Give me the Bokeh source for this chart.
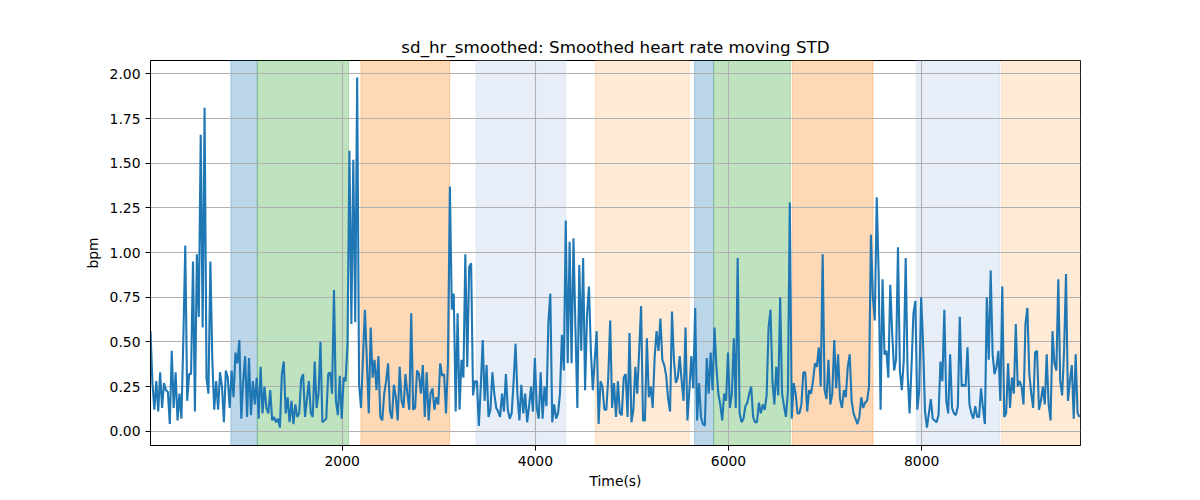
from bokeh.plotting import figure
from bokeh.models import BoxAnnotation, FixedTicker, PrintfTickFormatter, Range1d, ColumnDataSource
from bokeh.embed import file_html
from bokeh.resources import INLINE

# ---- data -------------------------------------------------------------
SAMPLE_START = 15      # s, first sample
SAMPLE_STEP = 20       # s, sampling step

sd_part1 = [0.56, 0.27, 0.12, 0.28, 0.11, 0.33, 0.13, 0.27, 0.23, 0.22,
            0.04, 0.45, 0.13, 0.33, 0.06, 0.21, 0.07, 0.51, 1.04, 0.17,
            0.32, 0.32, 0.95, 0.11, 0.99, 0.64, 1.66, 0.58, 1.81, 0.30,
            0.21, 0.95, 0.40, 0.12, 0.28, 0.12, 0.33, 0.25, 0.05, 0.34,
            0.30, 0.13, 0.34, 0.19, 0.44, 0.38, 0.51, 0.07, 0.28, 0.42,
            0.08, 0.41, 0.09, 0.28, 0.15, 0.30, 0.07, 0.36, 0.10, 0.25,
            0.13, 0.10, 0.23, 0.06, 0.08, 0.05, 0.07, 0.02, 0.32, 0.39,
            0.10, 0.19, 0.05, 0.17, 0.04, 0.15, 0.08, 0.10, 0.29, 0.32]
sd_part2 = [0.08, 0.18, 0.28, 0.10, 0.08, 0.39, 0.13, 0.21, 0.50, 0.05,
            0.06, 0.07, 0.32, 0.33, 0.21, 0.79, 0.17, 0.09, 0.31, 0.07,
            0.30, 0.28, 0.49, 1.57, 0.60, 1.52, 0.61, 1.98, 0.26, 0.13,
            0.41, 0.68, 0.40, 0.10, 0.58, 0.30, 0.40, 0.23, 0.42, 0.08,
            0.06, 0.21, 0.28, 0.38, 0.11, 0.07, 0.26, 0.19, 0.06, 0.36,
            0.17, 0.13, 0.32, 0.21, 0.12, 0.66, 0.12, 0.13, 0.34, 0.32,
            0.21, 0.37, 0.08, 0.33, 0.06, 0.21, 0.24, 0.12, 0.19, 0.15,
            0.38, 0.31, 0.32, 0.10, 0.38, 1.37, 0.68, 0.77, 0.11, 0.66]
sd_part3 = [0.12, 0.40, 0.30, 0.99, 0.36, 0.92, 0.94, 0.20, 0.28, 0.28,
            0.03, 0.25, 0.51, 0.17, 0.37, 0.08, 0.12, 0.33, 0.21, 0.13,
            0.11, 0.08, 0.21, 0.11, 0.32, 0.12, 0.07, 0.10, 0.28, 0.49,
            0.20, 0.06, 0.26, 0.10, 0.21, 0.05, 0.14, 0.25, 0.11, 0.41,
            0.13, 0.07, 0.33, 0.07, 0.25, 0.14, 0.61, 0.77, 0.05, 0.15,
            0.07, 0.10, 0.21, 0.54, 0.34, 1.18, 0.38, 1.06, 0.38, 1.08,
            0.58, 0.13, 0.93, 0.45, 0.97, 0.23, 0.65, 0.81, 0.45, 0.23,
            0.40, 0.56, 0.04, 0.28, 0.25, 0.12, 0.12, 0.30, 0.62, 0.13]
sd_part4 = [0.27, 0.08, 0.28, 0.10, 0.09, 0.30, 0.32, 0.08, 0.55, 0.05,
            0.12, 0.36, 0.21, 0.45, 0.70, 0.06, 0.06, 0.52, 0.19, 0.25,
            0.13, 0.41, 0.56, 0.45, 0.63, 0.40, 0.37, 0.31, 0.18, 0.11,
            0.67, 0.40, 0.27, 0.30, 0.42, 0.28, 0.17, 0.58, 0.06, 0.23,
            0.42, 0.24, 0.69, 0.06, 0.27, 0.08, 0.04, 0.03, 0.41, 0.21,
            0.44, 0.23, 0.58, 0.36, 0.21, 0.15, 0.06, 0.21, 0.17, 0.44,
            0.13, 0.21, 0.52, 0.13, 0.97, 0.10, 0.05, 0.07, 0.14, 0.16,
            0.21, 0.25, 0.08, 0.05, 0.05, 0.16, 0.10, 0.15, 0.12, 0.20]
sd_part5 = [0.58, 0.68, 0.28, 0.15, 0.36, 0.20, 0.75, 0.21, 0.14, 0.08,
            0.22, 1.28, 0.07, 0.27, 0.21, 0.10, 0.10, 0.15, 0.33, 0.33,
            0.11, 0.23, 0.21, 0.28, 0.38, 0.36, 0.47, 0.25, 0.99, 0.23,
            0.18, 0.40, 0.15, 0.21, 0.51, 0.24, 0.43, 0.18, 0.13, 0.23,
            0.19, 0.36, 0.43, 0.17, 0.10, 0.07, 0.04, 0.08, 0.19, 0.13,
            0.16, 0.17, 0.25, 1.10, 0.75, 0.62, 1.31, 0.88, 0.12, 0.85,
            0.43, 0.45, 0.30, 0.82, 0.55, 0.34, 0.40, 1.03, 0.34, 0.23,
            0.40, 0.97, 0.32, 0.10, 0.36, 0.66, 0.73, 0.12, 0.23, 0.75]
sd_part6 = [0.49, 0.11, 0.02, 0.10, 0.18, 0.07, 0.06, 0.05, 0.09, 0.39,
            0.28, 0.68, 0.17, 0.10, 0.43, 0.13, 0.10, 0.09, 0.14, 0.64,
            0.25, 0.26, 0.25, 0.47, 0.15, 0.10, 0.07, 0.14, 0.08, 0.08,
            0.24, 0.13, 0.04, 0.75, 0.40, 0.90, 0.43, 0.32, 0.36, 0.45,
            0.17, 0.81, 0.08, 0.10, 0.38, 0.13, 0.30, 0.21, 0.60, 0.25,
            0.28, 0.25, 0.15, 0.60, 0.69, 0.32, 0.21, 0.13, 0.44, 0.45,
            0.12, 0.17, 0.25, 0.15, 0.43, 0.15, 0.06, 0.56, 0.38, 0.34,
            0.85, 0.28, 0.20, 0.45, 0.88, 0.17, 0.28, 0.37, 0.07, 0.43,
            0.10, 0.08]

# labelled segments (s)
span_start = [847, 1121, 2194, 3386, 4619, 5648, 5847, 6661, 7945, 8826]
span_end   = [1121, 2066, 3113, 4315, 5593, 5845, 6640, 7497, 8809, 9700]
span_color = ["#1f77b4", "#2ca02c", "#ff7f0e", "#aec7e8", "#ffbb78",
              "#1f77b4", "#2ca02c", "#ff7f0e", "#aec7e8", "#ffbb78"]

y_ticks = [0.0, 0.25, 0.5, 0.75, 1.0, 1.25, 1.5, 1.75, 2.0]
x_ticks = [2000, 4000, 6000, 8000]

sd_values = sd_part1 + sd_part2 + sd_part3 + sd_part4 + sd_part5 + sd_part6
time_s = [SAMPLE_START + SAMPLE_STEP * i for i in range(len(sd_values))]

# ---- figure -------------------------------------------------------------
FONT = "DejaVu Sans"
W, H = 1192, 492
p = figure(width=W, height=H, output_backend="svg", toolbar_location=None,
           x_range=Range1d(15, 9645), y_range=Range1d(-0.08, 2.075),
           title="sd_hr_smoothed: Smoothed heart rate moving STD",
           x_axis_label="Time(s)", y_axis_label="bpm")
p.min_border_left = 150
p.min_border_right = W - 1080
p.min_border_top = 60
p.min_border_bottom = H - 445
p.background_fill_color = "white"
p.border_fill_color = "white"
p.outline_line_color = "black"
p.outline_line_width = 1

p.title.text_font = FONT
p.title.text_font_size = "16.7px"
p.title.text_font_style = "normal"
p.title.text_color = "black"
p.title.align = "center"
p.title.standoff = 7

for s, e, c in zip(span_start, span_end, span_color):
    p.add_layout(BoxAnnotation(left=s, right=e, fill_color=c, fill_alpha=0.3,
                               line_color=c, line_alpha=0.3, line_width=1,
                               level="image"))

p.grid.grid_line_color = "#b0b0b0"
p.grid.grid_line_width = 1.1

src = ColumnDataSource(data=dict(t=time_s, v=sd_values))
p.line("t", "v", source=src, line_color="#1f77b4", line_width=2.1)

p.xaxis.ticker = FixedTicker(ticks=x_ticks)
p.xaxis.formatter = PrintfTickFormatter(format="%d")
p.yaxis.ticker = FixedTicker(ticks=y_ticks)
p.yaxis.formatter = PrintfTickFormatter(format="%.2f")
for ax in (p.xaxis, p.yaxis):
    ax.major_label_text_font = FONT
    ax.major_label_text_font_size = "13.9px"
    ax.major_label_text_color = "black"
    ax.axis_label_text_font = FONT
    ax.axis_label_text_font_size = "13.9px"
    ax.axis_label_text_font_style = "normal"
    ax.axis_label_text_color = "black"
    ax.axis_line_color = "black"
    ax.major_tick_line_color = "black"
    ax.major_tick_out = 5
    ax.major_tick_in = 0
    ax.minor_tick_out = 0
    ax.minor_tick_in = 0
p.xaxis.major_label_standoff = 5
p.xaxis.axis_label_standoff = 4
p.yaxis.major_label_standoff = 5
p.yaxis.axis_label_standoff = 6

open("out.html", "w").write(file_html(p, INLINE))
